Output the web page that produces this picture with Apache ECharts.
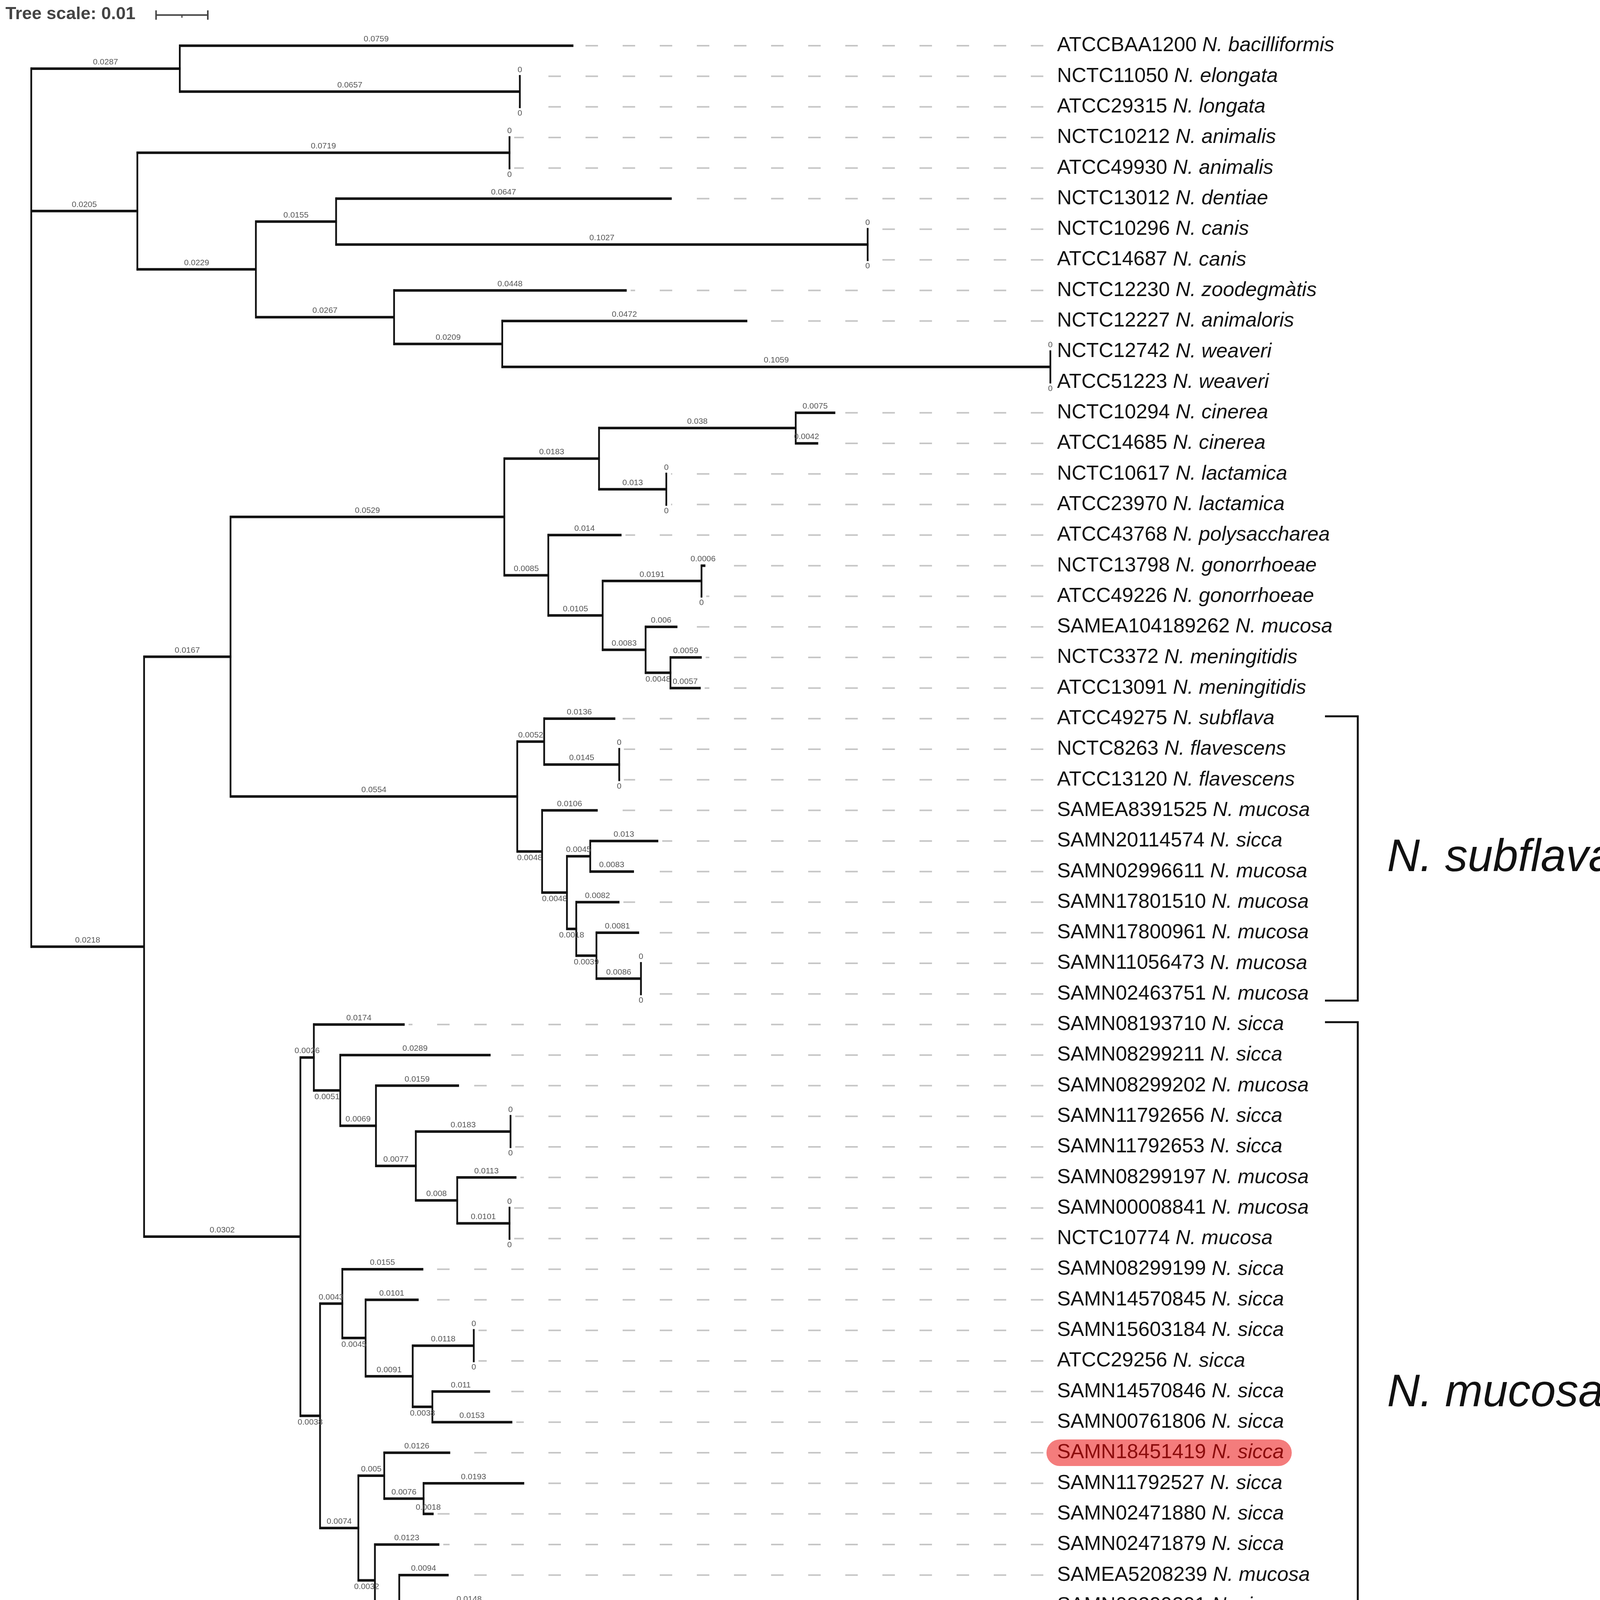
<!DOCTYPE html>
<html lang="en">
<head>
<meta charset="UTF-8">
<title>Neisseria tree</title>
<script src="https://cdn.jsdelivr.net/npm/echarts@6/dist/echarts.min.js"></script>
<style>
    * {
        margin: 0;
        padding: 0
    }

    html, body {
        width: 100%;
        height: 100%;
        background: #fff;
    }

    #tree {
        width: 4153px;
        height: 4552px;
    }
</style>
</head>
<body>
<div id="tree"></div>
<script type="text/javascript">
    /*-------------------- data -----------------------------*/
    // leaves, top to bottom
    var leafIds = [
        'ATCCBAA1200', 'NCTC11050', 'ATCC29315', 'NCTC10212', 'ATCC49930', 'NCTC13012',
        'NCTC10296', 'ATCC14687', 'NCTC12230', 'NCTC12227', 'NCTC12742', 'ATCC51223',
        'NCTC10294', 'ATCC14685', 'NCTC10617', 'ATCC23970', 'ATCC43768', 'NCTC13798',
        'ATCC49226', 'SAMEA104189262', 'NCTC3372', 'ATCC13091', 'ATCC49275', 'NCTC8263',
        'ATCC13120', 'SAMEA8391525', 'SAMN20114574', 'SAMN02996611', 'SAMN17801510', 'SAMN17800961',
        'SAMN11056473', 'SAMN02463751', 'SAMN08193710', 'SAMN08299211', 'SAMN08299202', 'SAMN11792656',
        'SAMN11792653', 'SAMN08299197', 'SAMN00008841', 'NCTC10774', 'SAMN08299199', 'SAMN14570845',
        'SAMN15603184', 'ATCC29256', 'SAMN14570846', 'SAMN00761806', 'SAMN18451419', 'SAMN11792527',
        'SAMN02471880', 'SAMN02471879', 'SAMEA5208239', 'SAMN08299201', 'SAMEA5664365', 'SAMN08299228',
        'SAMN04875586', 'SAMN04299442', 'ATCC19696'
    ];
    var leafSpecies = [
        'N. bacilliformis', 'N. elongata', 'N. longata', 'N. animalis', 'N. animalis', 'N. dentiae',
        'N. canis', 'N. canis', 'N. zoodegmàtis', 'N. animaloris', 'N. weaveri', 'N. weaveri',
        'N. cinerea', 'N. cinerea', 'N. lactamica', 'N. lactamica', 'N. polysaccharea', 'N. gonorrhoeae',
        'N. gonorrhoeae', 'N. mucosa', 'N. meningitidis', 'N. meningitidis', 'N. subflava', 'N. flavescens',
        'N. flavescens', 'N. mucosa', 'N. sicca', 'N. mucosa', 'N. mucosa', 'N. mucosa',
        'N. mucosa', 'N. mucosa', 'N. sicca', 'N. sicca', 'N. mucosa', 'N. sicca',
        'N. sicca', 'N. mucosa', 'N. mucosa', 'N. mucosa', 'N. sicca', 'N. sicca',
        'N. sicca', 'N. sicca', 'N. sicca', 'N. sicca', 'N. sicca', 'N. sicca',
        'N. sicca', 'N. sicca', 'N. mucosa', 'N. sicca', 'N. sicca', 'N. sicca',
        'N. mucosa', 'N. mucosa', 'N. mucosa'
    ];
    // [child, parent, branch length] - numbers are leaf indexes, strings are inner nodes
    var branches = [
        ['a', 'root', 0.0287], [0, 'a', 0.0759], ['a1', 'a', 0.0657], [1, 'a1', 0], [2, 'a1', 0],
        ['b', 'root', 0.0205], ['b1', 'b', 0.0719], [3, 'b1', 0], [4, 'b1', 0],
        ['b2', 'b', 0.0229], ['b3', 'b2', 0.0155], [5, 'b3', 0.0647],
        ['b4', 'b3', 0.1027], [6, 'b4', 0], [7, 'b4', 0],
        ['b5', 'b2', 0.0267], [8, 'b5', 0.0448], ['b6', 'b5', 0.0209], [9, 'b6', 0.0472],
        ['b7', 'b6', 0.1059], [10, 'b7', 0], [11, 'b7', 0],
        ['c', 'root', 0.0218], ['c1', 'c', 0.0167], ['c2', 'c1', 0.0529], ['c3', 'c2', 0.0183],
        ['c4', 'c3', 0.038], [12, 'c4', 0.0075], [13, 'c4', 0.0042],
        ['c5', 'c3', 0.013], [14, 'c5', 0], [15, 'c5', 0],
        ['c6', 'c2', 0.0085], [16, 'c6', 0.014], ['c7', 'c6', 0.0105],
        ['c8', 'c7', 0.0191], [17, 'c8', 0.0006], [18, 'c8', 0],
        ['c9', 'c7', 0.0083], [19, 'c9', 0.006], ['c10', 'c9', 0.0048], [20, 'c10', 0.0059], [21, 'c10', 0.0057],
        ['d', 'c1', 0.0554], ['d1', 'd', 0.0052], [22, 'd1', 0.0136],
        ['d2', 'd1', 0.0145], [23, 'd2', 0], [24, 'd2', 0],
        ['d3', 'd', 0.0048], [25, 'd3', 0.0106], ['d4', 'd3', 0.0048],
        ['d5', 'd4', 0.0045], [26, 'd5', 0.013], [27, 'd5', 0.0083],
        ['d6', 'd4', 0.0018], [28, 'd6', 0.0082], ['d7', 'd6', 0.0039], [29, 'd7', 0.0081],
        ['d8', 'd7', 0.0086], [30, 'd8', 0], [31, 'd8', 0],
        ['m', 'c', 0.0302],
        ['e', 'm', 0.0026], [32, 'e', 0.0174], ['e1', 'e', 0.0051], [33, 'e1', 0.0289],
        ['e2', 'e1', 0.0069], [34, 'e2', 0.0159], ['e3', 'e2', 0.0077],
        ['e4', 'e3', 0.0183], [35, 'e4', 0], [36, 'e4', 0],
        ['e5', 'e3', 0.008], [37, 'e5', 0.0113], ['e6', 'e5', 0.0101], [38, 'e6', 0], [39, 'e6', 0],
        ['f', 'm', 0.0038], ['g', 'f', 0.0043], [40, 'g', 0.0155],
        ['g1', 'g', 0.0045], [41, 'g1', 0.0101], ['g2', 'g1', 0.0091],
        ['g3', 'g2', 0.0118], [42, 'g3', 0], [43, 'g3', 0],
        ['g4', 'g2', 0.0038], [44, 'g4', 0.011], [45, 'g4', 0.0153],
        ['h', 'f', 0.0074], ['h1', 'h', 0.005], [46, 'h1', 0.0126],
        ['h2', 'h1', 0.0076], [47, 'h2', 0.0193], [48, 'h2', 0.0018],
        ['h3', 'h', 0.0032], [49, 'h3', 0.0123], ['h4', 'h3', 0.0047], [50, 'h4', 0.0094],
        ['h5', 'h4', 0.003], ['h6', 'h5', 0.0031], [51, 'h6', 0.0148], [52, 'h6', 0.0035],
        ['h7', 'h5', 0.0014], [53, 'h7', 0.0102], ['h8', 'h7', 0.0018], [54, 'h8', 0.0025],
        ['h9', 'h8', 0.0024], [55, 'h9', 0.001], [56, 'h9', 0.005]
    ];
    var cladeNames = ['N. subflava', 'N. mucosa'];
    var cladeFirst = [22, 32];
    var cladeLast = [31, 56];
    var highlightLeaf = 46;
    var scaleBar = 0.01;

    var FONT = '"Liberation Sans", Arial, sans-serif';

    /*-------------------- layout -----------------------------*/
    // x = distance from root, y = leaf order (inner node sits midway its first and last child)
    var kids = {}, blen = {};
    branches.forEach(function (b) {
        (kids[b[1]] = kids[b[1]] || []).push(b[0]);
        blen[b[0]] = b[2];
    });
    var posX = {}, posY = {};
    function layout(node, x) {
        posX[node] = x;
        if (typeof node === 'number') {
            posY[node] = node;
            return;
        }
        var k = kids[node];
        k.forEach(function (c) {
            layout(c, x + blen[c]);
        });
        posY[node] = (posY[k[0]] + posY[k[k.length - 1]]) / 2;
    }
    layout('root', 0);

    var maxDepth = 0;
    leafIds.forEach(function (id, i) {
        maxDepth = Math.max(maxDepth, posX[i]);
    });

    var branchData = branches.map(function (b) {
        var sib = kids[b[1]];
        var isLast = sib[sib.length - 1] === b[0];
        // short inner branches (and zero leaves) at the bottom get their number underneath
        var below = isLast && b[2] < 0.006 && (typeof b[0] !== 'number' || b[2] === 0);
        return [posX[b[1]], posX[b[0]], posY[b[0]], b[2], below ? 1 : 0];
    });
    var vertData = [];
    Object.keys(kids).forEach(function (n) {
        var k = kids[n];
        vertData.push([posX[n], posY[k[0]], posY[k[k.length - 1]]]);
    });
    var leafData = leafIds.map(function (id, i) {
        return [posX[i], i];
    });
    var cladeData = cladeNames.map(function (n, i) {
        return [maxDepth, cladeFirst[i], cladeLast[i]];
    });

    /*-------------------- chart -----------------------------*/
    var chart = echarts.init(document.getElementById('tree'));

    function labelLeft(api) {
        return api.coord([maxDepth, 0])[0] + 17;
    }

    chart.setOption({
        backgroundColor: '#fff',
        animation: false,
        grid: {left: 80, top: 117, width: 2650, height: 4385},
        xAxis: {type: 'value', min: 0, max: 0.2, show: false},
        yAxis: {type: 'value', min: 0, max: 56, inverse: true, show: false},
        series: [
            {
                // vertical connectors
                type: 'custom',
                data: vertData,
                encode: {x: 0, y: [1, 2]},
                renderItem: function (params, api) {
                    var p0 = api.coord([api.value(0), api.value(1)]);
                    var p1 = api.coord([api.value(0), api.value(2)]);
                    return {
                        type: 'line',
                        shape: {x1: p0[0], y1: p0[1] - 3, x2: p1[0], y2: p1[1] + 3},
                        style: {stroke: '#111', lineWidth: 4.5}
                    };
                }
            },
            {
                // horizontal branches + branch lengths
                type: 'custom',
                data: branchData,
                encode: {x: [0, 1], y: 2},
                renderItem: function (params, api) {
                    var p0 = api.coord([api.value(0), api.value(2)]);
                    var p1 = api.coord([api.value(1), api.value(2)]);
                    var below = api.value(4) === 1;
                    return {
                        type: 'group',
                        children: [
                            {
                                type: 'line',
                                shape: {x1: p0[0] - 2, y1: p0[1], x2: p1[0] + 2, y2: p1[1]},
                                style: {stroke: '#111', lineWidth: 6.5}
                            },
                            {
                                type: 'text',
                                style: {
                                    text: String(branches[params.dataIndex][2]),
                                    x: (p0[0] + p1[0]) / 2,
                                    y: p0[1] + (below ? 6 : -6),
                                    align: 'center',
                                    verticalAlign: below ? 'top' : 'bottom',
                                    fill: '#555',
                                    fontSize: 21,
                                    fontFamily: FONT
                                }
                            }
                        ]
                    };
                }
            },
            {
                // leader dashes + leaf names
                type: 'custom',
                data: leafData,
                encode: {x: 0, y: 1},
                renderItem: function (params, api) {
                    var i = params.dataIndex;
                    var tip = api.coord([api.value(0), api.value(1)]);
                    var lx = labelLeft(api);
                    var hi = i === highlightLeaf;
                    var col = hi ? '#8c0c0c' : '#111';
                    var children = [];
                    if (lx - 35 > tip[0] + 20) {
                        children.push({
                            type: 'line',
                            shape: {x1: lx - 35, y1: tip[1], x2: tip[0] + 12, y2: tip[1]},
                            style: {stroke: '#c6c6c6', lineWidth: 4, lineDash: [32, 63]}
                        });
                    }
                    var txt = {
                        text: '{id|' + leafIds[i] + '} {sp|' + leafSpecies[i] + '}',
                        x: lx,
                        y: tip[1],
                        verticalAlign: 'middle',
                        fontSize: 52,
                        fontFamily: FONT,
                        fill: col,
                        rich: {
                            id: {fontSize: 52, fontFamily: FONT, fill: col},
                            sp: {fontSize: 52, fontFamily: FONT, fill: col, fontStyle: 'italic'}
                        }
                    };
                    if (hi) {
                        txt.x = lx - 27;
                        txt.backgroundColor = '#f47c7c';
                        txt.borderRadius = 34;
                        txt.padding = [8, 20, 8, 27];
                    }
                    children.push({type: 'text', style: txt});
                    return {type: 'group', children: children};
                }
            },
            {
                // clade brackets
                type: 'custom',
                data: cladeData,
                encode: {x: 0, y: [1, 2]},
                renderItem: function (params, api) {
                    var top = api.coord([api.value(0), api.value(1)]);
                    var bot = api.coord([api.value(0), api.value(2)]);
                    var bx = labelLeft(api) + 770;
                    var y0 = top[1] - 6, y1 = bot[1] + 17;
                    return {
                        type: 'group',
                        children: [
                            {
                                type: 'polyline',
                                shape: {points: [[bx - 84, y0], [bx, y0], [bx, y1], [bx - 84, y1]]},
                                style: {stroke: '#111', lineWidth: 5, fill: null}
                            },
                            {
                                type: 'text',
                                style: {
                                    text: cladeNames[params.dataIndex],
                                    x: bx + 75,
                                    y: (y0 + y1) / 2,
                                    verticalAlign: 'middle',
                                    fontSize: 116,
                                    fontStyle: 'italic',
                                    fontFamily: FONT,
                                    fill: '#111'
                                }
                            }
                        ]
                    };
                }
            }
        ]
    });

    /*-------------------- tree scale -----------------------------*/
    var sx0 = chart.convertToPixel({gridIndex: 0}, [0, 0])[0];
    var sx1 = chart.convertToPixel({gridIndex: 0}, [scaleBar, 0])[0];
    var sw = sx1 - sx0;
    chart.setOption({
        graphic: [
            {
                type: 'text',
                left: 14,
                top: 14,
                style: {
                    text: 'Tree scale: ' + scaleBar,
                    fontSize: 45,
                    fontWeight: 'bold',
                    fontFamily: FONT,
                    fill: '#444'
                }
            },
            {
                type: 'group',
                left: 397,
                top: 24,
                children: [
                    {type: 'line', shape: {x1: 0, y1: 12, x2: sw, y2: 12}, style: {stroke: '#444', lineWidth: 4}},
                    {type: 'line', shape: {x1: 0, y1: 0, x2: 0, y2: 24}, style: {stroke: '#444', lineWidth: 4}},
                    {type: 'line', shape: {x1: sw, y1: 0, x2: sw, y2: 24}, style: {stroke: '#444', lineWidth: 4}},
                    {type: 'line', shape: {x1: sw / 2, y1: 12, x2: sw / 2, y2: 19}, style: {stroke: '#444', lineWidth: 3}}
                ]
            }
        ]
    });
</script>
</body>
</html>
